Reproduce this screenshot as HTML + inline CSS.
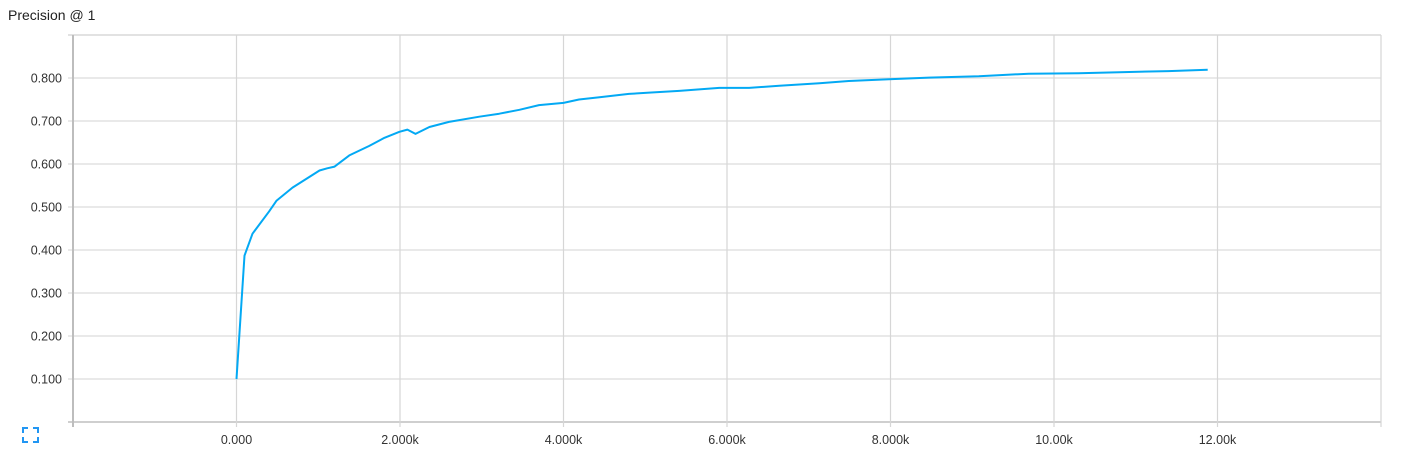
<!DOCTYPE html>
<html><head><meta charset="utf-8">
<style>
html,body{margin:0;padding:0;background:#fff;width:1409px;height:465px;overflow:hidden;}
svg{display:block;font-family:"Liberation Sans",sans-serif;}
</style></head>
<body>
<svg id="chart" width="1409" height="465">
  <text x="8" y="20" font-size="14" fill="#212121">Precision @ 1</text>
  <g id="grid"></g>
  <g id="axes"></g>
  <path id="line" fill="none" stroke="#03a9f4" stroke-width="2" stroke-linejoin="round"></path>
  <g stroke="#2196f3" stroke-width="2" fill="none">
    <path d="M23 433v-5h5M33 428h5v5M38 437v5h-5M28 442h-5v-5"/>
  </g>
</svg>
<script>
const steps = [0,98,196,400,490,685,1015,1110,1200,1380,1625,1810,1993,2090,2190,2360,2600,2970,3215,3460,3700,4000,4190,4440,4800,5050,5415,5905,6270,6640,7130,7490,7980,8470,9080,9690,10300,10920,11400,11880];
const values = [0.1,0.387,0.438,0.49,0.515,0.545,0.585,0.59,0.594,0.62,0.642,0.661,0.675,0.68,0.67,0.686,0.698,0.71,0.717,0.726,0.737,0.742,0.75,0.755,0.763,0.766,0.77,0.777,0.777,0.782,0.788,0.793,0.797,0.801,0.804,0.81,0.811,0.814,0.816,0.819];
const xTicks = [-2000,0,2000,4000,6000,8000,10000,12000,14000];
const xTickLabels = ["","0.000","2.000k","4.000k","6.000k","8.000k","10.00k","12.00k",""];
const yTicks = [0,0.1,0.2,0.3,0.4,0.5,0.6,0.7,0.8,0.9];
const yTickLabels = ["","0.100","0.200","0.300","0.400","0.500","0.600","0.700","0.800",""];

const L=73,R=1381,T=35,B=422;
const xMin=-2000,xMax=14000,yMin=0,yMax=0.9;
const sx=v=>L+(v-xMin)/(xMax-xMin)*(R-L);
const sy=v=>B-(v-yMin)/(yMax-yMin)*(B-T);
const NS="http://www.w3.org/2000/svg";
const grid=document.getElementById('grid'), axes=document.getElementById('axes');
function mk(tag,attrs,parent){const e=document.createElementNS(NS,tag);for(const k in attrs)e.setAttribute(k,attrs[k]);parent.appendChild(e);return e;}

yTicks.forEach((t,i)=>{
  const y=sy(t);
  const g=mk('line',{x1:L-5,x2:R,y1:y,y2:y,stroke:(t===0?'#cfcfcf':'#e2e2e2'),'stroke-width':(t===0||t===0.9)?2:1.5},grid);
  
  
  if(yTickLabels[i]){
    const tx=mk('text',{x:62,y:y+4.5,'font-size':'12.5','text-anchor':'end',fill:'#333'},axes);
    tx.textContent=yTickLabels[i];
    
    
  }
});
xTicks.forEach((t,i)=>{
  const x=sx(t);
  const g=mk('line',{x1:x,x2:x,y1:T,y2:B+5,stroke:(t===xMin?'#bdbdbd':'#d6d6d6'),'stroke-width':t===xMin?2:1.2},grid);
  
  
  if(xTickLabels[i]){
    const tx=mk('text',{x:x,y:444,'font-size':'12.5','text-anchor':'middle',fill:'#333'},axes);
    tx.textContent=xTickLabels[i];
    
    
  }
});
document.getElementById('line').setAttribute('d',steps.map((s,i)=>(i?'L':'M')+sx(s).toFixed(1)+' '+sy(values[i]).toFixed(1)).join(''));
</script>
</body></html>
